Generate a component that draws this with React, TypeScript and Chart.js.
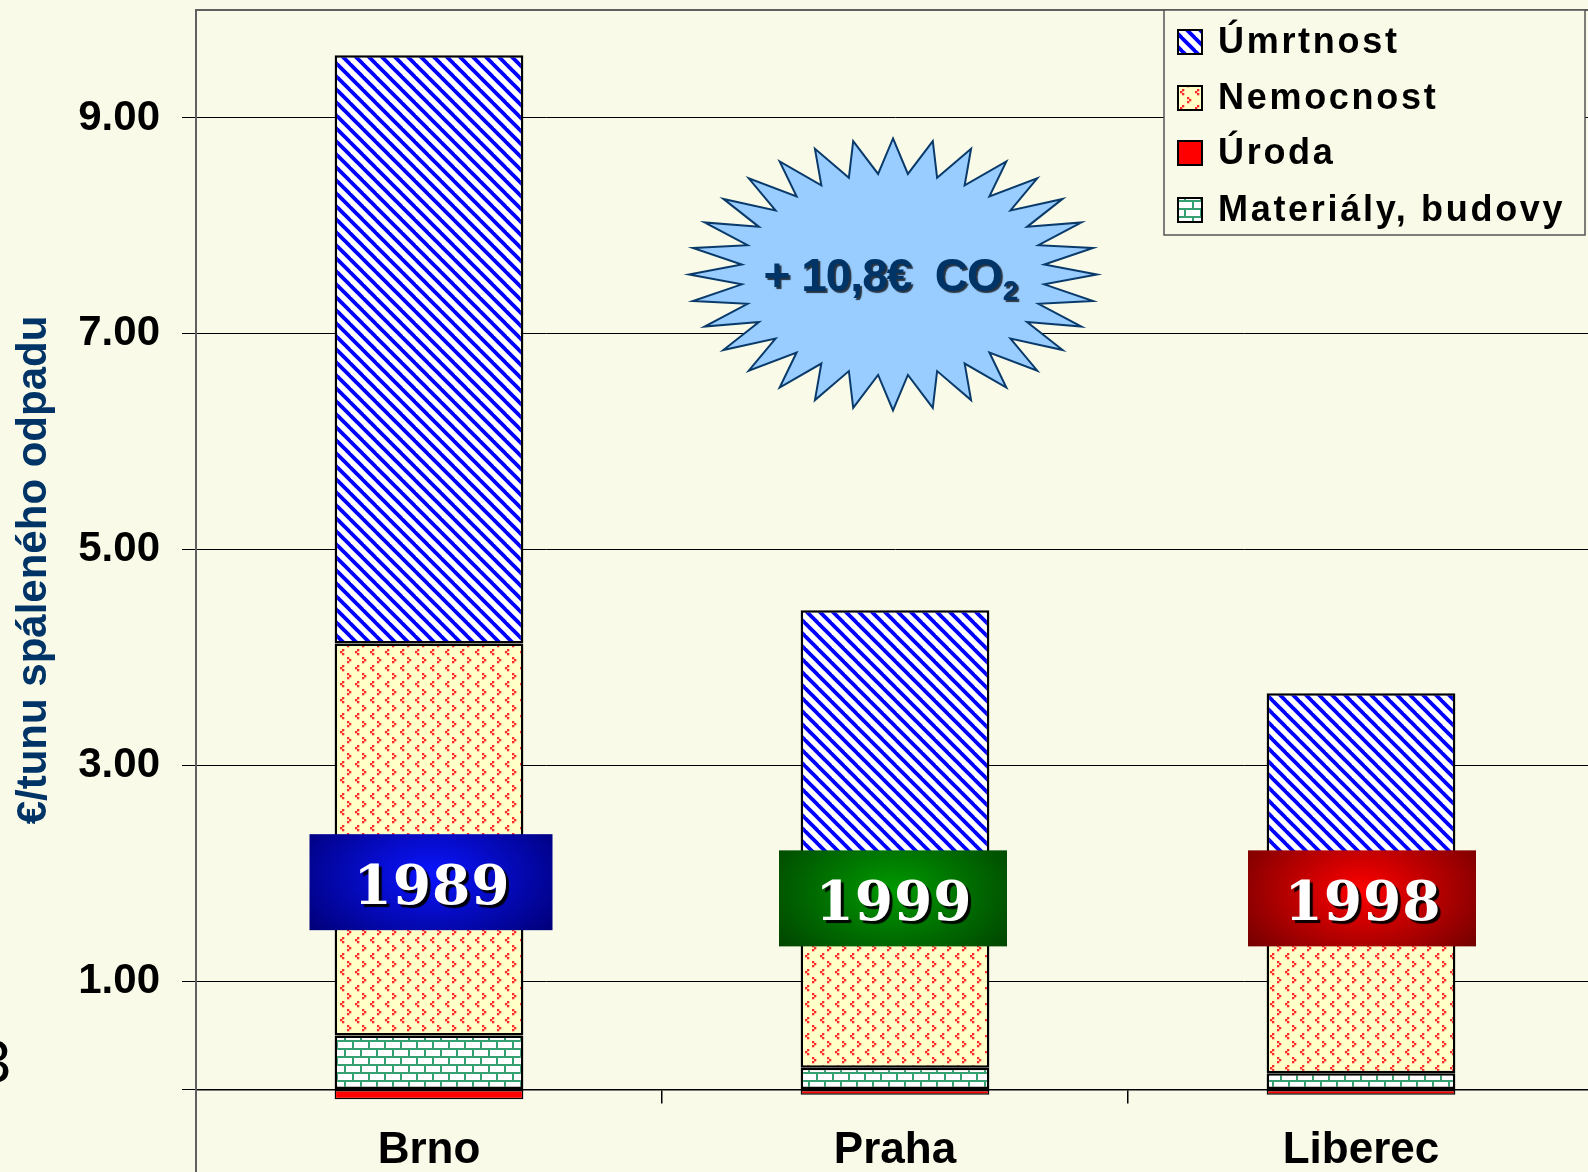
import React, { useEffect, useRef } from 'react';
import { Chart, registerables } from 'chart.js';

Chart.register(...registerables);

// ---------- data ----------
const categories = ['Brno', 'Praha', 'Liberec'];
const materialy = [0.5, 0.2, 0.15];
const uroda = [-0.09, -0.05, -0.05];
const nemocnost = [3.63, 1.7, 1.5];
const umrtnost = [5.45, 2.54, 2.02];
const seriesNames = ['Úmrtnost', 'Nemocnost', 'Úroda', 'Materiály, budovy'];
const yTicks = [1, 3, 5, 7, 9];
const yearLabels = ['1989', '1999', '1998'];
const yearAnchorValues = [1.92, 1.77, 1.77];
const starText = '+ 10,8€  CO';
const starSub = '2';
const yTitle = '€/tunu spáleného odpadu';

// ---------- style ----------
const BG = '#f9fbe8';
const SANS = '"Liberation Sans", Arial, sans-serif';
const SERIF = '"DejaVu Serif", "Liberation Serif", serif';
const yearColors = [
  ['#0a14ff', '#00007a'],
  ['#009a00', '#004600'],
  ['#ff0000', '#760000'],
];
const yearBoxW = [243, 228, 228];
const yearBoxDx = [2, -2, 1];
const yearBoxH = 96;
const CANVAS_W = 1594; // plot area runs slightly past the right edge of the view
const VIEW_W = 1588;
const VIEW_H = 1172;

function makeStripeTile(): HTMLCanvasElement {
  const c = document.createElement('canvas');
  c.width = 13; c.height = 13;
  const g = c.getContext('2d')!;
  g.fillStyle = '#ffffff';
  g.fillRect(0, 0, 13, 13);
  g.strokeStyle = '#0000ff';
  g.lineWidth = 3.8;
  for (const k of [-13, 0, 13]) {
    g.beginPath();
    g.moveTo(k - 3, -3);
    g.lineTo(k + 16, 16);
    g.stroke();
  }
  return c;
}

function makeDotTile(): HTMLCanvasElement {
  const c = document.createElement('canvas');
  c.width = 15; c.height = 16;
  const g = c.getContext('2d')!;
  g.fillStyle = '#ffffc8';
  g.fillRect(0, 0, 15, 16);
  g.fillStyle = '#ff2a2a';
  const d = (x: number, y: number) => g.fillRect(x, y, 2.3, 2.3);
  d(2, 1); d(4, 3); d(2, 5);
  d(12, 9); d(10, 11); d(12, 13);
  return c;
}

function makeBrickTile(): HTMLCanvasElement {
  const c = document.createElement('canvas');
  c.width = 32; c.height = 16;
  const g = c.getContext('2d')!;
  g.fillStyle = '#ffffff';
  g.fillRect(0, 0, 32, 16);
  g.fillStyle = '#36a073';
  g.fillRect(0, 0, 32, 2);
  g.fillRect(0, 8, 32, 2);
  g.fillRect(0, 0, 2, 8);
  g.fillRect(16, 0, 2, 8);
  g.fillRect(8, 8, 2, 8);
  g.fillRect(24, 8, 2, 8);
  return c;
}

function drawStar(ctx: CanvasRenderingContext2D, cx: number, cy: number) {
  const n = 32;
  const orx = 204, ory = 136, irx = 152, iry = 101;
  ctx.save();
  ctx.beginPath();
  for (let i = 0; i < n * 2; i++) {
    const a = -Math.PI / 2 + (i * Math.PI) / n;
    const outer = i % 2 === 0;
    const x = cx + Math.cos(a) * (outer ? orx : irx);
    const y = cy + Math.sin(a) * (outer ? ory : iry);
    if (i === 0) ctx.moveTo(x, y); else ctx.lineTo(x, y);
  }
  ctx.closePath();
  ctx.fillStyle = '#99ccff';
  ctx.fill();
  ctx.strokeStyle = '#0a3a6a';
  ctx.lineWidth = 2;
  ctx.lineJoin = 'miter';
  ctx.stroke();

  ctx.font = `bold 46px ${SANS}`;
  ctx.textBaseline = 'alphabetic';
  ctx.textAlign = 'left';
  (ctx as any).letterSpacing = '-1px';
  const main = ctx.measureText(starText).width;
  ctx.font = `bold 28px ${SANS}`;
  const sub = ctx.measureText(starSub).width;
  const x0 = cx - (main + sub) / 2 - 3;
  const base = cy + 17;
  ctx.shadowColor = 'rgba(0,0,0,0.75)';
  ctx.shadowOffsetX = 2;
  ctx.shadowOffsetY = 2;
  ctx.shadowBlur = 1;
  ctx.fillStyle = '#003366';
  ctx.font = `bold 46px ${SANS}`;
  ctx.fillText(starText, x0, base);
  ctx.font = `bold 28px ${SANS}`;
  ctx.fillText(starSub, x0 + main + 1, base + 9);
  ctx.restore();
}

function drawYearBox(ctx: CanvasRenderingContext2D, cx: number, cy: number, w: number, h: number, cols: string[], text: string) {
  const x0 = cx - w / 2, y0 = cy - h / 2;
  const gcy = cy - h * 0.08;
  ctx.save();
  ctx.translate(cx, gcy);
  const sy = (h / w) * 1.5;
  ctx.scale(1, sy);
  const g = ctx.createRadialGradient(0, 0, 0, 0, 0, w * 0.62);
  g.addColorStop(0, cols[0]);
  g.addColorStop(1, cols[1]);
  ctx.fillStyle = g;
  ctx.fillRect(x0 - cx, (y0 - gcy) / sy, w, h / sy);
  ctx.restore();

  ctx.save();
  ctx.font = `bold 55px ${SERIF}`;
  (ctx as any).letterSpacing = '1px';
  ctx.textAlign = 'center';
  ctx.textBaseline = 'alphabetic';
  ctx.shadowColor = 'rgba(0,0,0,0.95)';
  ctx.shadowOffsetX = 3;
  ctx.shadowOffsetY = 3;
  ctx.shadowBlur = 1;
  ctx.fillStyle = '#ffffff';
  ctx.fillText(text, cx + 1, cy + 22);
  ctx.restore();
}

export default function App() {
  const ref = useRef<HTMLCanvasElement>(null);

  useEffect(() => {
    const canvas = ref.current!;
    const ctx = canvas.getContext('2d')!;
    const stripes = ctx.createPattern(makeStripeTile(), 'repeat')!;
    const dots = ctx.createPattern(makeDotTile(), 'repeat')!;
    const bricks = ctx.createPattern(makeBrickTile(), 'repeat')!;
    const legendFills: (string | CanvasPattern)[] = [stripes, dots, '#ff0000', bricks];

    const common = {
      borderColor: '#000000',
      borderWidth: 2.5,
      borderSkipped: false as const,
      barPercentage: 0.405,
      categoryPercentage: 1,
      stack: 's',
    };

    const overlay = {
      id: 'overlay',
      beforeDraw(chart: any) {
        const c = chart.ctx;
        c.save();
        c.fillStyle = BG;
        c.fillRect(0, 0, chart.width, chart.height);
        c.restore();
      },
      beforeDatasetsDraw(chart: any) {
        const c = chart.ctx;
        const a = chart.chartArea;
        c.save();
        c.strokeStyle = '#606060';
        c.lineWidth = 2;
        c.beginPath();
        c.moveTo(a.left, a.top);
        c.lineTo(chart.width, a.top);
        c.stroke();
        c.restore();
      },
      afterDatasetsDraw(chart: any) {
        const c = chart.ctx;
        const xs = chart.scales.x;
        const ys = chart.scales.y;
        drawStar(c, xs.getPixelForValue(1) - 2, ys.getPixelForValue(7.55));
        yearLabels.forEach((t, i) => {
          drawYearBox(c, xs.getPixelForValue(i) + yearBoxDx[i], ys.getPixelForValue(yearAnchorValues[i]), yearBoxW[i], yearBoxH, yearColors[i], t);
        });
      },
      afterDraw(chart: any) {
        const c = chart.ctx;
        // legend
        c.save();
        const lx = 1164, ly = 10, lw = 421, lh = 225;
        c.fillStyle = BG;
        c.fillRect(lx, ly, lw, lh);
        c.strokeStyle = '#555555';
        c.lineWidth = 1.5;
        c.strokeRect(lx, ly, lw, lh);
        const rows = [42, 98, 153, 210];
        seriesNames.forEach((name, i) => {
          const y = rows[i];
          c.fillStyle = legendFills[i] as any;
          c.fillRect(1178, y - 12, 24, 24);
          c.strokeStyle = '#000';
          c.lineWidth = 2;
          c.strokeRect(1178, y - 12, 24, 24);
          c.fillStyle = '#000';
          c.font = `bold 36px ${SANS}`;
          (c as any).letterSpacing = '2.7px';
          c.textAlign = 'left';
          c.textBaseline = 'middle';
          c.fillText(name, 1218, y + 1);
          (c as any).letterSpacing = '0px';
        });
        c.restore();

        // y-axis title
        c.save();
        c.translate(34, 570);
        c.rotate(-Math.PI / 2);
        c.font = `bold 42px ${SANS}`;
        c.fillStyle = '#003366';
        c.textAlign = 'center';
        c.textBaseline = 'middle';
        c.fillText(yTitle, 0, 0);
        c.restore();

        // fragment of neighbouring slide text at left edge
        c.save();
        c.font = `60px ${SANS}`;
        c.fillStyle = '#000';
        c.textAlign = 'right';
        c.textBaseline = 'alphabetic';
        c.fillText('3', 11, 1082);
        c.restore();
      },
    };

    const chart = new Chart(canvas, {
      type: 'bar',
      data: {
        labels: categories,
        datasets: [
          { label: seriesNames[3], data: materialy, backgroundColor: bricks, ...common },
          { label: seriesNames[2], data: uroda, backgroundColor: '#ff0000', ...common, borderWidth: 1.5 },
          { label: seriesNames[1], data: nemocnost, backgroundColor: dots, ...common },
          { label: seriesNames[0], data: umrtnost, backgroundColor: stripes, ...common },
        ],
      },
      options: {
        responsive: false,
        animation: false,
        devicePixelRatio: 1,
        layout: { padding: { top: 10, left: 0, right: 0, bottom: 0 } },
        plugins: {
          legend: { display: false },
          tooltip: { enabled: false },
          title: { display: false },
        },
        scales: {
          x: {
            stacked: true,
            position: { y: 0 } as any,
            offset: true,
            afterFit: (s: any) => {
              s.paddingLeft = 0;
              s.paddingRight = 0;
            },
            grid: { drawOnChartArea: false, drawTicks: true, tickLength: 13, color: '#000', offset: true, lineWidth: 1.5 },
            border: { display: true, color: '#000', width: 1.5 },
            ticks: {
              font: { family: SANS, size: 44, weight: 'bold' },
              color: '#000',
              padding: 22,
              maxRotation: 0,
              autoSkip: false,
            },
          },
          y: {
            stacked: true,
            min: -0.765,
            max: 10.0,
            afterBuildTicks: (s: any) => {
              s.ticks = [0, ...yTicks].map((v) => ({ value: v }));
            },
            afterFit: (s: any) => {
              s.width = 196;
              s.paddingTop = 0;
              s.paddingBottom = 0;
            },
            ticks: {
              callback: (v: any) => (Number(v) === 0 ? '' : Number(v).toFixed(2)),
              font: { family: SANS, size: 42, weight: 'bold' },
              color: '#000',
              padding: 22,
            },
            grid: { color: '#000', lineWidth: 1, tickLength: 14, tickColor: '#000' },
            border: { color: '#606060', width: 2 },
          },
        },
      },
      plugins: [overlay],
    } as any);

    return () => chart.destroy();
  }, []);

  return (
    <div style={{ position: 'absolute', left: 0, top: 0, width: VIEW_W, height: VIEW_H, background: BG, overflow: 'hidden' }}>
      <canvas ref={ref} width={CANVAS_W} height={VIEW_H} style={{ display: 'block', width: CANVAS_W, height: VIEW_H }} />
    </div>
  );
}
